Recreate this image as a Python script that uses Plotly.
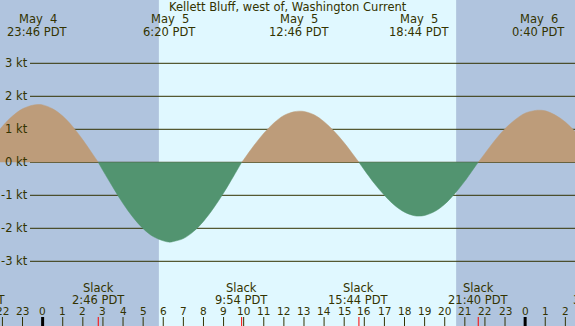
import plotly.graph_objects as go

# ---- data (hours relative to May 5 00:00 PDT) ----
times = [-3.32, -3.0, -2.5, -2.0, -1.5, -1.0, -0.5, -0.233, 0.0, 0.5, 1.0, 1.5, 2.0, 2.5, 2.767,
         3.0, 3.5, 4.0, 4.5, 5.0, 5.5, 6.0, 6.333, 6.5, 7.0, 7.5, 8.0, 8.5, 9.0, 9.5, 9.9,
         10.0, 10.5, 11.0, 11.5, 12.0, 12.5, 12.767, 13.0, 13.5, 14.0, 14.5, 15.0, 15.5, 15.733,
         16.0, 16.5, 17.0, 17.5, 18.0, 18.5, 18.733, 19.0, 19.5, 20.0, 20.5, 21.0, 21.5, 21.667,
         22.0, 22.5, 23.0, 23.5, 24.0, 24.5, 24.667, 25.0, 25.5, 26.0, 26.5, 27.0, 27.7]
speed = [0.0, 0.28, 0.71, 1.09, 1.40, 1.62, 1.73, 1.75, 1.74, 1.62, 1.40, 1.08, 0.68, 0.24, 0.0,
         -0.25, -0.76, -1.25, -1.67, -2.01, -2.25, -2.38, -2.42, -2.40, -2.31, -2.10, -1.79, -1.39, -0.93, -0.42, 0.0,
         0.08, 0.50, 0.88, 1.19, 1.42, 1.53, 1.55, 1.54, 1.44, 1.23, 0.94, 0.59, 0.19, 0.0,
         -0.23, -0.64, -1.00, -1.30, -1.51, -1.62, -1.63, -1.61, -1.49, -1.27, -0.95, -0.57, -0.14, 0.0,
         0.27, 0.67, 1.02, 1.29, 1.49, 1.57, 1.58, 1.56, 1.43, 1.22, 0.92, 0.56, 0.0]

extreme_times = [-0.233, 6.333, 12.767, 18.733, 24.667]
extreme_dates = ["May  4", "May  5", "May  5", "May  5", "May  6"]
extreme_labels = ["23:46 PDT", "6:20 PDT", "12:46 PDT", "18:44 PDT", "0:40 PDT"]

slack_times = [-3.32, 2.767, 9.9, 15.733, 21.667, 27.7]
slack_labels = ["20:41 PDT", "2:46 PDT", "9:54 PDT", "15:44 PDT", "21:40 PDT", "3:42 PDT"]

sunrise = 5.783   # 5:47
sunset = 20.567   # 20:34

hours = list(range(-2, 27))
kt_levels = [3, 2, 1, 0, -1, -2, -3]
kt_labels = ["3 kt", "2 kt", "1 kt", "0 kt", "-1 kt", "-2 kt", "-3 kt"]

title = "Kellett Bluff, west of, Washington Current"

# ---- style ----
W, H = 575, 326
XMIN, XMAX = -2.12, 26.48
YMIN, YMAX = -4.96, 4.918
NIGHT = "#b0c4de"
DAY = "#e0f8ff"
FLOOD = "#bd9c7a"
EBB = "#529470"
INK = "#333300"
FONT = "DejaVu Sans"


def xf(t):
    return (t - XMIN) / (XMAX - XMIN)


def yp(px):
    return 1 - px / H


fig = go.Figure()

# split curve into segments between slack points
segments = []
cur = []
for t, v in zip(times, speed):
    cur.append((t, v))
    if v == 0 and len(cur) > 1:
        segments.append(cur)
        cur = [(t, v)]
for seg in segments:
    xs = [p[0] for p in seg]
    ys = [p[1] for p in seg]
    pos = sum(ys) > 0
    col = FLOOD if pos else EBB
    fig.add_trace(go.Scatter(x=xs, y=ys, mode="lines", fill="tozeroy", fillcolor=col,
                             line=dict(color=col, width=0.5, shape="spline"),
                             hoverinfo="skip", showlegend=False))

shapes = []
# day shading
shapes.append(dict(type="rect", xref="x", yref="paper", x0=sunrise, x1=sunset, y0=0, y1=1,
                   fillcolor=DAY, line=dict(width=0), layer="below"))
# gridlines
for k in kt_levels:
    shapes.append(dict(type="line", xref="paper", yref="y", x0=30 / W, x1=1, y0=k, y1=k,
                       line=dict(color=INK, width=1), layer="below"))
# hour ticks
for h in hours:
    major = (h % 24 == 0)
    shapes.append(dict(type="line", xref="x", yref="paper", x0=h, x1=h, y0=0, y1=yp(317),
                       line=dict(color="#000000" if major else INK, width=3 if major else 1)))
# slack ticks
for s in slack_times:
    shapes.append(dict(type="line", xref="x", yref="paper", x0=s, x1=s, y0=0, y1=yp(317),
                       line=dict(color="#ff0000", width=1)))


def label(text, x, y, size=11.5, xanchor="center", yref="paper"):
    return dict(text=text, xref="paper", yref=yref, x=x, y=y, showarrow=False,
                xanchor=xanchor, yanchor="middle", borderpad=0, borderwidth=0,
                font=dict(family=FONT, size=size, color=INK))


ann = [label(title, 0.5, yp(7.5))]
for t, d, l in zip(extreme_times, extreme_dates, extreme_labels):
    ann.append(label(d.replace("  ", " \u00a0"), xf(t), yp(19.5)))
    ann.append(label(l, xf(t), yp(32)))
for t, l in zip(slack_times, slack_labels):
    ann.append(label("Slack", xf(t), yp(287.5)))
    ann.append(label(l, xf(t), yp(299.5)))
for h in hours:
    ann.append(label(str(h % 24), xf(h), yp(311), size=10.5))
for k, l in zip(kt_levels, kt_labels):
    ann.append(label(l, 28 / W, k, xanchor="right", yref="y"))

fig.update_layout(
    width=W, height=H, margin=dict(l=0, r=0, t=0, b=0),
    paper_bgcolor=NIGHT, plot_bgcolor=NIGHT,
    xaxis=dict(range=[XMIN, XMAX], visible=False, fixedrange=True),
    yaxis=dict(range=[YMIN, YMAX], visible=False, fixedrange=True),
    shapes=shapes, annotations=ann, showlegend=False,
)

fig.write_html("out.html", config={"displayModeBar": False},
               post_script="document.body.style.margin='0';document.body.style.overflow='hidden';")
